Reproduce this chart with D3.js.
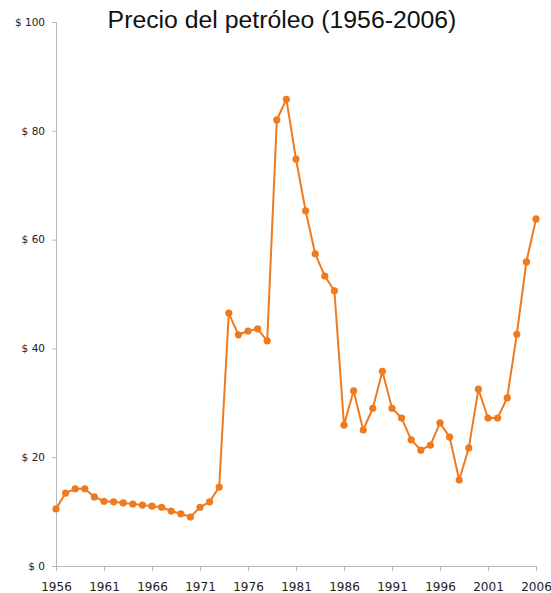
<!DOCTYPE html>
<html><head><meta charset="utf-8">
<script src="https://cdn.jsdelivr.net/npm/d3@7"></script>
<style>body{margin:0;background:#fff;}svg{display:block;}</style>
</head><body>
<script>
const years = d3.range(1956, 2007);
const prices = [10.5, 13.4, 14.2, 14.2, 12.7, 11.9, 11.8, 11.6, 11.4, 11.2,
  11.0, 10.8, 10.1, 9.6, 9.0, 10.8, 11.8, 14.5, 46.5, 42.5,
  43.2, 43.6, 41.4, 82.0, 85.8, 74.8, 65.3, 57.4, 53.3, 50.6,
  25.9, 32.2, 25.0, 29.0, 35.8, 29.0, 27.2, 23.2, 21.3, 22.2,
  26.3, 23.7, 15.8, 21.7, 32.5, 27.2, 27.2, 30.9, 42.6, 55.9, 63.8];
const xTicks = [1956, 1961, 1966, 1971, 1976, 1981, 1986, 1991, 1996, 2001, 2006];
const yTicks = [0, 20, 40, 60, 80, 100];
const title = "Precio del petróleo (1956-2006)";

const W = 551, H = 593;
const svg = d3.select("body").append("svg").attr("width", W).attr("height", H);
const x = d3.scaleLinear().domain([1956, 2006]).range([56, 536]);
const y = d3.scaleLinear().domain([0, 100]).range([566, 22]);
const axisColor = "#b8b8b8";
const font = "DejaVu Sans, Verdana, sans-serif";

const xAxis = svg.append("g").attr("transform", "translate(0,566)")
  .call(d3.axisBottom(x).tickValues(xTicks).tickFormat(d3.format("d")).tickSize(5).tickPadding(11));
xAxis.selectAll("text").attr("font-family", font).attr("font-size", 12).attr("fill", "#222");
const yAxis = svg.append("g").attr("transform", "translate(56,0)")
  .call(d3.axisLeft(y).tickValues(yTicks).tickFormat(d => "$ " + d).tickSize(4).tickPadding(7));
yAxis.selectAll("text").attr("font-family", font).attr("font-size", 10.5).attr("fill", "#222");
svg.selectAll(".domain, .tick line").attr("stroke", axisColor);

const data = years.map((yr, i) => ({yr, v: prices[i]}));
const orange = "#f07a1e";
svg.append("path").datum(data)
  .attr("fill", "none").attr("stroke", orange).attr("stroke-width", 2)
  .attr("stroke-linejoin", "round")
  .attr("d", d3.line().x(d => x(d.yr)).y(d => y(d.v)));
svg.append("g").selectAll("circle").data(data).join("circle")
  .attr("cx", d => x(d.yr)).attr("cy", d => y(d.v)).attr("r", 3.6).attr("fill", orange);

svg.append("text").attr("x", 282).attr("y", 28).attr("text-anchor", "middle")
  .attr("font-family", "Liberation Sans, Arial, sans-serif").attr("font-size", 24.8)
  .attr("fill", "#111").text(title);
</script>
</body></html>
